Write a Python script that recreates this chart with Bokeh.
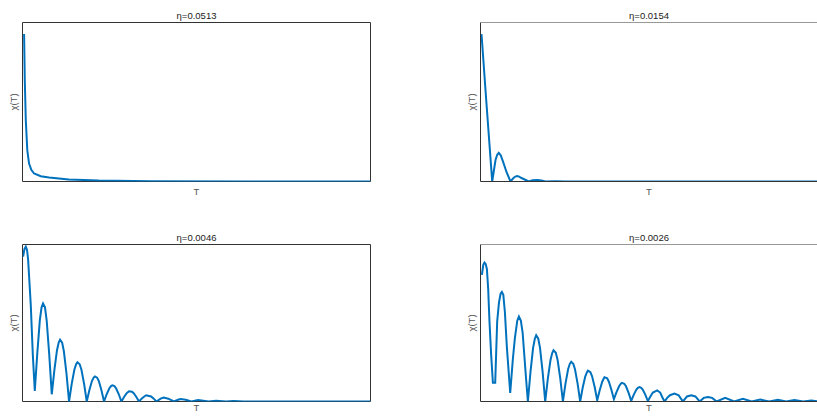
from bokeh.plotting import figure
from bokeh.layouts import column, row
from bokeh.models import Range1d, FixedTicker, Span, Title
from bokeh.embed import file_html
from bokeh.resources import INLINE

# ---- data ----
titles = ["η=0.0513", "η=0.0154", "η=0.0046", "η=0.0026"]

T_a = [0.46, 0.66, 0.95, 1.38, 1.89, 2.53, 3.33, 5.25, 7.64, 13.29, 21.9, 36.8, 65.5, 100]
chi_a = [0.927, 0.635, 0.384, 0.196, 0.113, 0.074, 0.050, 0.033, 0.025, 0.0125, 0.006, 0.002, 0.0, 0.0]

T_b = [0.29, 1.72, 3.36, 4.31, 4.80, 5.25, 5.80, 6.52, 7.46, 8.61, 9.47, 10.0, 10.54, 11.1,
       11.77, 13.87, 14.93, 16.28, 17.51, 18.66, 21.5, 24.4, 100]
chi_b = [0.927, 0.489, 0.0, 0.135, 0.168, 0.180, 0.165, 0.122, 0.06, 0.0, 0.022, 0.031, 0.034, 0.031,
         0.022, 0.0, 0.0075, 0.0094, 0.006, 0.0, 0.002, 0.0, 0.0]

T_c = [0.17, 0.55, 0.95, 1.30, 1.61, 2.38, 2.96, 3.53,
       4.26, 4.99, 5.48, 5.91, 6.46, 6.95, 7.68, 8.41,
       9.16, 9.90, 10.40, 10.80, 11.39, 11.89, 12.63, 13.38,
       14.14, 14.90, 15.41, 15.79, 16.43, 16.94, 17.70, 18.46,
       19.21, 19.95, 20.45, 20.82, 21.44, 21.94, 22.68, 23.43,
       24.18, 24.93, 25.43, 25.84, 26.42, 26.92, 27.67, 28.42,
       29.18, 29.94, 30.44, 30.61, 31.46, 31.96, 32.72, 33.48,
       34.23, 34.98, 35.54, 36.98, 37.72, 38.47,
       39.70, 40.57, 41.90, 43.53, 44.70, 45.45, 46.90, 48.52,
       50.47, 53.49, 55.64, 58.51, 60.67, 63.54, 100]
chi_c = [0.923, 0.970, 0.986, 0.965, 0.906, 0.614, 0.30, 0.067,
         0.31, 0.52, 0.60, 0.624, 0.60, 0.515, 0.30, 0.046,
         0.20, 0.325, 0.375, 0.394, 0.375, 0.32, 0.18, 0.0,
         0.112, 0.202, 0.237, 0.250, 0.237, 0.202, 0.112, 0.0,
         0.072, 0.130, 0.152, 0.160, 0.152, 0.130, 0.072, 0.0,
         0.046, 0.083, 0.098, 0.103, 0.098, 0.083, 0.046, 0.0,
         0.029, 0.053, 0.062, 0.065, 0.062, 0.053, 0.029, 0.0,
         0.018, 0.032, 0.040, 0.032, 0.018, 0.0,
         0.018, 0.025, 0.018, 0.0, 0.011, 0.016, 0.011, 0.0,
         0.009, 0.0, 0.005, 0.0, 0.003, 0.0, 0.0]

T_d = [0.40, 0.80, 1.15, 1.50, 1.84, 2.20, 2.58, 3.05, 3.56, 4.22,
       4.79, 5.30, 5.75, 6.14, 6.55, 7.00, 7.58, 8.53,
       9.29, 9.88, 10.56, 11.02, 11.58, 12.09, 12.63, 13.10, 13.61,
       14.36, 15.10, 15.60, 15.99, 16.59, 17.09, 17.83, 18.58,
       19.34, 20.10, 20.61, 20.96, 21.63, 22.14, 22.90, 23.66,
       24.40, 25.15, 25.64, 26.04, 26.64, 27.13, 27.88, 28.62,
       29.35, 30.09, 30.58, 30.84, 31.55, 32.04, 32.78, 33.51,
       34.23, 34.95, 35.43, 35.60, 36.38, 36.86, 37.58, 38.30,
       39.05, 39.79, 40.29, 40.60, 41.28, 41.78, 42.52, 43.27,
       43.99, 44.71, 45.19, 45.65, 46.14, 46.62, 47.34, 48.06,
       48.78, 49.49, 50.73, 51.60, 52.10, 52.83,
       53.60, 54.41, 55.70, 56.90, 57.40, 58.11,
       59.30, 60.49, 61.70, 62.93, 64.10, 65.29, 66.50, 67.81,
       70.25, 72.84, 75.34, 77.86, 80.30, 82.89, 85.39, 87.77,
       90.15, 92.65, 94.95, 97.4, 99.8]
chi_d = [0.806, 0.870, 0.885, 0.875, 0.843, 0.72, 0.51, 0.30, 0.119, 0.119,
         0.51, 0.63, 0.685, 0.698, 0.68, 0.57, 0.343, 0.054,
         0.27, 0.405, 0.515, 0.541, 0.515, 0.44, 0.28, 0.14, 0.0,
         0.19, 0.342, 0.40, 0.422, 0.40, 0.342, 0.19, 0.0,
         0.147, 0.264, 0.31, 0.326, 0.31, 0.264, 0.147, 0.0,
         0.114, 0.205, 0.240, 0.253, 0.240, 0.205, 0.114, 0.0,
         0.089, 0.160, 0.187, 0.197, 0.187, 0.160, 0.092, 0.008,
         0.072, 0.126, 0.148, 0.155, 0.148, 0.126, 0.075, 0.015,
         0.06, 0.097, 0.113, 0.119, 0.113, 0.097, 0.055, 0.004,
         0.042, 0.075, 0.087, 0.092, 0.087, 0.075, 0.042, 0.003,
         0.032, 0.057, 0.071, 0.057, 0.032, 0.0,
         0.023, 0.040, 0.050, 0.040, 0.023, 0.0,
         0.032, 0.040, 0.032, 0.0, 0.023, 0.029, 0.023, 0.0,
         0.023, 0.0, 0.017, 0.0, 0.0125, 0.0, 0.0106, 0.0,
         0.0088, 0.0, 0.0063, 0.0, 0.005]

x_label = "T"
y_label = "χ(T)"

LINE = "#0072BD"
FRAME = "#333333"
FONT = "Liberation Sans"


def make_panel(title, xs, ys, left, top):
    width = 460 if left else 357
    height = 226 if top else 190
    x_end = 100 if left else 96.76
    p = figure(width=width, height=height, output_backend="svg", toolbar_location=None,
               x_range=Range1d(0, x_end), y_range=Range1d(0, 1),
               min_border_left=22 if left else 20, min_border_right=90 if left else 0,
               min_border_top=22 if top else 18, min_border_bottom=45 if top else 15,
               title=None)
    p.add_layout(Title(text=title, align="center", text_font=FONT, text_font_size="9.5px",
                       text_font_style="normal", text_color="#222222", standoff=3,
                       offset=0 if left else 2), "above")
    p.grid.visible = False
    p.background_fill_color = "white"
    p.border_fill_color = "white"
    if left:
        p.outline_line_color = FRAME
        p.outline_line_width = 1
    else:
        p.outline_line_color = None

    for ax in p.axis:
        ax.ticker = FixedTicker(ticks=[])
        ax.major_tick_line_color = None
        ax.minor_tick_line_color = None
        ax.major_tick_out = 0
        ax.major_tick_in = 0
        ax.major_label_standoff = 0
        ax.axis_line_color = None if left else FRAME
        ax.axis_label_text_font = FONT
        ax.axis_label_text_font_size = "9.5px"
        ax.axis_label_text_font_style = "normal"
        ax.axis_label_text_color = "#555555"

    p.yaxis.axis_label = y_label
    p.yaxis.axis_label_standoff = 4
    p.xaxis.axis_label = x_label
    p.xaxis.axis_label_standoff = 4 if top else 0

    if not left:
        p.add_layout(Span(location=1, dimension="width", line_color=FRAME, line_width=1))

    p.line(xs, ys, line_color=LINE, line_width=2, line_join="miter")
    return p


p1 = make_panel(titles[0], T_a, chi_a, True, True)
p2 = make_panel(titles[1], T_b, chi_b, False, True)
p3 = make_panel(titles[2], T_c, chi_c, True, False)
p4 = make_panel(titles[3], T_d, chi_d, False, False)

layout = column(row(p1, p2), row(p3, p4))
open("out.html", "w").write(file_html(layout, INLINE))
